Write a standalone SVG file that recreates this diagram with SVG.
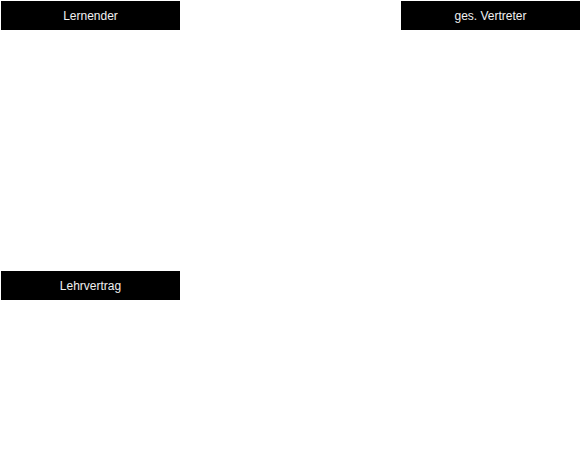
<svg xmlns="http://www.w3.org/2000/svg" width="581" height="451" viewBox="0 0 581 451">
  <style>
    .box { fill: #000000; }
    .label { fill: #f0f0f0; font-family: "Liberation Sans", Arial, sans-serif; font-size: 12px; text-anchor: middle; dominant-baseline: central; }
  </style>
  <rect width="581" height="451" fill="#ffffff"/>
  <g id="lernender">
    <rect class="box" x="1" y="1" width="179" height="29"/>
    <text class="label" x="90.5" y="15.5">Lernender</text>
  </g>
  <g id="ges-vertreter">
    <rect class="box" x="401" y="1" width="179" height="29"/>
    <text class="label" x="490.5" y="15.5">ges. Vertreter</text>
  </g>
  <g id="lehrvertrag">
    <rect class="box" x="1" y="271" width="179" height="29"/>
    <text class="label" x="90.5" y="285.5">Lehrvertrag</text>
  </g>
  <g id="connectors"></g>
</svg>
